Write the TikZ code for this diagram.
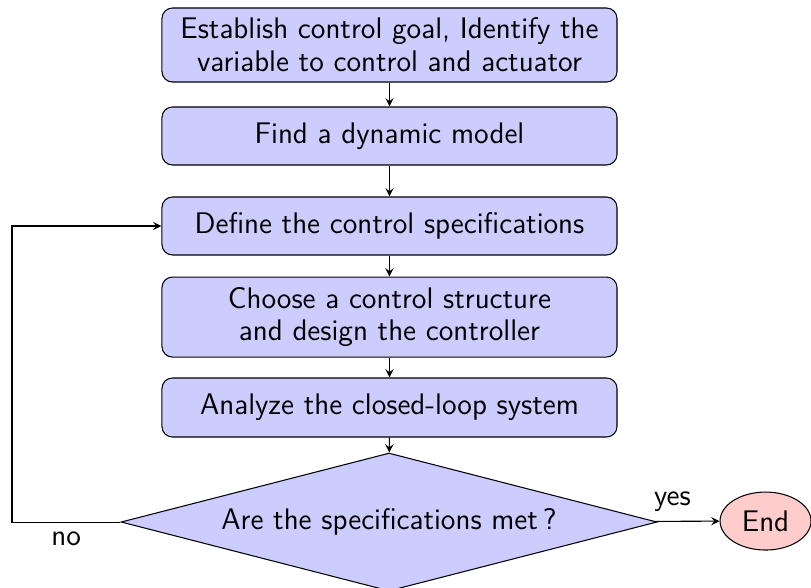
\documentclass[tikz,border=0pt]{standalone}
\usepackage{tikz}
\usetikzlibrary{arrows,shapes,positioning}

\begin{document}
\begin{tikzpicture}[>=stealth, font=\sffamily\fontsize{11.3pt}{12.5pt}\selectfont,
    block/.style={rectangle, draw=black, fill=blue!20, rounded corners, align=center, minimum width=6.067cm},
    decision/.style={diamond, aspect=3.88, draw=black, fill=blue!20, inner sep=0pt, minimum width=7.147cm, minimum height=1.84cm},
    stop/.style={ellipse, draw=black, fill=red!20, inner sep=0pt, minimum width=1.213cm, minimum height=0.773cm}]
   \useasboundingbox (0,0) rectangle (10.813,-7.827);

   \node[block, minimum height=0.987cm] (goal) at (5.193,-0.6) {Establish control goal, Identify the\\variable to control and actuator};
   \node[block, minimum height=0.773cm] (model) at (5.193,-1.813) {Find a dynamic model};
   \node[block, minimum height=0.773cm] (spec) at (5.193,-3.013) {Define the control specifications};
   \node[block, minimum height=1.067cm] (design) at (5.193,-4.227) {Choose a control structure\\and design the controller};
   \node[block, minimum height=0.787cm] (analyze) at (5.193,-5.433) {Analyze the closed-loop system};
   \node[decision] (met) at (5.187,-6.96) {Are the specifications met\,?};
   \node[stop] (end) at (10.207,-6.947) {End};

   %loop back
   \coordinate (loop) at (0.16,-6.96);

  \path[->]
    (goal) edge node {} (model)
    (model) edge node {} (spec)
    (spec) edge node {} (design)
    (design) edge node {} (analyze)
    (analyze) edge node {} (met)
    (met) edge node [above, pos=0.27] {yes} (end);

  \draw[->] (met.west) -- node [below, pos=0.5] {no} (loop) |- (spec.west);
\end{tikzpicture}
\end{document}
